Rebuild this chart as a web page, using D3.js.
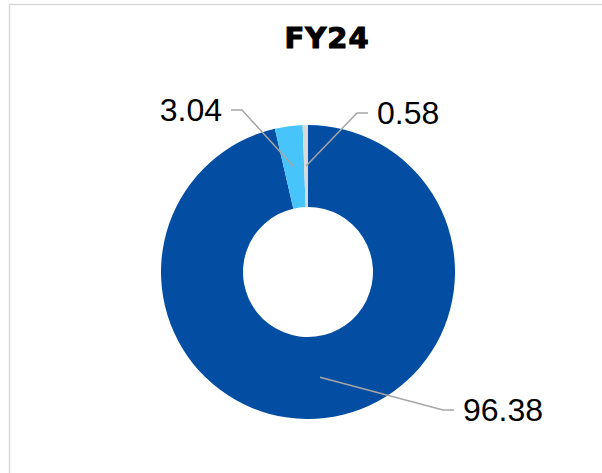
<!DOCTYPE html>
<html>
<head>
<meta charset="utf-8">
<script src="https://cdn.jsdelivr.net/npm/d3@7"></script>
<style>
  body { margin: 0; background: #fff; }
  svg { display: block; }
  .title { font-family: "DejaVu Sans", sans-serif; font-weight: bold; font-size: 29px; letter-spacing: 1px; stroke: #000; stroke-width: 1.1px; }
  .lbl { font-family: "Liberation Sans", Arial, sans-serif; font-size: 32px; fill: #000; }
</style>
</head>
<body>
<svg id="chart" width="602" height="473"></svg>
<script>
'use strict'

const title = 'FY24'
const categories = ['A', 'B', 'C']
const values = [96.38, 3.04, 0.58]
const colors = ['#034EA2', '#47C5FB', '#D9D9D9']

// where each label sits (elbow point, then short horizontal tail)
const labelLayout = [
    { ex: 443, ey: 410, dir: 1 },
    { ex: 242, ey: 110, dir: -1 },
    { ex: 357, ey: 113, dir: 1 }
]

const width = 602, height = 473
const cx = 308, cy = 272
const outerR = 147, innerR = 65

const svg = d3.select('#chart')

// frame
svg.append('rect')
    .attr('x', 9.5).attr('y', 4.5)
    .attr('width', width + 10).attr('height', height + 10)
    .attr('fill', 'none')
    .attr('stroke', '#d9d9d9')
    .attr('stroke-width', 1.5)

svg.append('text')
    .classed('title', true)
    .attr('x', 327)
    .attr('y', 48)
    .attr('text-anchor', 'middle')
    .text(title)

const pie = d3.pie().sort(null).value(d => d)
const arcs = pie(values)

const arc = d3.arc().innerRadius(innerR).outerRadius(outerR)

const g = svg.append('g')
    .attr('transform', 'translate(' + cx + ',' + cy + ')')

g.selectAll('path.slice')
    .data(arcs)
    .enter().append('path')
    .classed('slice', true)
    .attr('d', arc)
    .attr('fill', (d, i) => colors[i])

// leader lines
svg.append('g').selectAll('polyline')
    .data(arcs)
    .enter().append('polyline')
    .attr('fill', 'none')
    .attr('stroke', '#a6a6a6')
    .attr('stroke-width', 1.5)
    .attr('points', (d, i) => {
        const c = arc.centroid(d)
        const l = labelLayout[i]
        return [
            [cx + c[0], cy + c[1]],
            [l.ex, l.ey],
            [l.ex + l.dir * 11, l.ey]
        ].join(' ')
    })

svg.append('g').selectAll('text')
    .data(arcs)
    .enter().append('text')
    .classed('lbl', true)
    .attr('x', (d, i) => labelLayout[i].ex + labelLayout[i].dir * 20)
    .attr('y', (d, i) => labelLayout[i].ey + 11)
    .attr('text-anchor', (d, i) => labelLayout[i].dir > 0 ? 'start' : 'end')
    .text(d => d3.format('.2f')(d.data))
</script>
</body>
</html>
